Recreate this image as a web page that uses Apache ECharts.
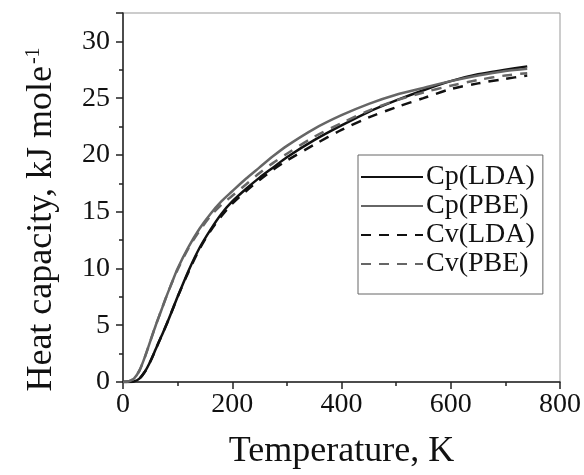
<!DOCTYPE html>
<html>
<head>
<meta charset="utf-8">
<script src="https://cdn.jsdelivr.net/npm/echarts@6/dist/echarts.min.js"></script>
<style>
  html, body { margin: 0; padding: 0; background: #fff; }
  #chart { width: 584px; height: 475px; }
</style>
</head>
<body>
<div id="chart"></div>
<script>
// temperature grid, K
var temps = [0, 10, 20, 30, 40, 50, 60, 70, 80, 90, 100, 120, 140, 160, 180, 200, 225, 250, 275, 300, 350, 400, 450, 500, 550, 600, 650, 700, 740];
// heat capacity, kJ/mole
var cpLDA = [0, 0, 0.05, 0.3, 0.9, 1.8, 2.9, 4.0, 5.1, 6.3, 7.5, 9.8, 11.8, 13.4, 14.8, 15.9, 17.0, 18.0, 18.9, 19.8, 21.3, 22.6, 23.8, 24.8, 25.7, 26.5, 27.1, 27.5, 27.8];
var cpPBE = [0, 0.05, 0.3, 1.0, 2.2, 3.6, 5.0, 6.3, 7.6, 8.8, 10.0, 11.9, 13.5, 14.8, 15.9, 16.8, 17.9, 18.9, 19.9, 20.8, 22.3, 23.5, 24.5, 25.3, 25.9, 26.5, 27.0, 27.4, 27.6];
var cvLDA = [0, 0, 0.05, 0.3, 0.9, 1.8, 2.9, 4.0, 5.1, 6.3, 7.5, 9.7, 11.7, 13.3, 14.6, 15.7, 16.8, 17.8, 18.7, 19.5, 20.9, 22.2, 23.3, 24.2, 25.0, 25.8, 26.3, 26.7, 27.0];
var cvPBE = [0, 0.05, 0.3, 1.0, 2.2, 3.6, 5.0, 6.3, 7.6, 8.8, 9.9, 11.8, 13.3, 14.6, 15.6, 16.4, 17.4, 18.4, 19.3, 20.1, 21.6, 22.8, 23.9, 24.8, 25.5, 26.1, 26.6, 27.0, 27.2];

var serif = "'Liberation Serif', 'Times New Roman', serif";

function pairs(ys) {
  return temps.map(function (t, i) { return [t, ys[i]]; });
}

function line(name, ys, color, dashed) {
  return {
    name: name,
    type: 'line',
    data: pairs(ys),
    smooth: 0.3,
    symbol: 'none',
    lineStyle: { color: color, width: 2.5, type: dashed ? [10, 8] : 'solid' },
    itemStyle: { color: color }
  };
}

var chart = echarts.init(document.getElementById('chart'));
chart.setOption({
  animation: false,
  backgroundColor: '#fff',
  grid: {
    left: 123, right: 21, top: 13, bottom: 92,
    show: true, borderColor: '#999', borderWidth: 1
  },
  legend: {
    orient: 'vertical',
    left: 358, top: 155,
    padding: [8, 8, 16, 2],
    itemWidth: 62, itemHeight: 14, itemGap: 1,
    borderColor: '#666', borderWidth: 1,
    itemStyle: { opacity: 0 },
    textStyle: { fontFamily: serif, fontSize: 28, lineHeight: 25, color: '#111', padding: [0, 0, 0, -2] },
    data: ['Cp(LDA)', 'Cp(PBE)', 'Cv(LDA)', 'Cv(PBE)']
  },
  xAxis: {
    type: 'value',
    min: 0, max: 800, interval: 200,
    name: 'Temperature, K',
    nameLocation: 'middle',
    nameGap: 52,
    nameTextStyle: { fontFamily: serif, fontSize: 36, color: '#111' },
    axisLine: { show: true, onZero: false, lineStyle: { color: '#222', width: 1.5 } },
    axisTick: { show: true, inside: false, length: 7, lineStyle: { color: '#222', width: 1.5 } },
    minorTick: { show: true, splitNumber: 2, length: 4, lineStyle: { color: '#222', width: 1.5 } },
    axisLabel: { fontFamily: serif, fontSize: 28, color: '#111', margin: 9 },
    splitLine: { show: false }
  },
  yAxis: {
    type: 'value',
    min: 0, max: 32.5, interval: 5,
    name: 'Heat capacity, kJ mole{sup|-1}',
    nameLocation: 'middle',
    nameGap: 63,
    nameRotate: 90,
    nameTextStyle: {
      fontFamily: serif, fontSize: 36, color: '#111',
      padding: [0, 44, 0, 0],
      rich: { sup: { fontFamily: serif, fontSize: 20, color: '#111', verticalAlign: 'top', lineHeight: 20, padding: [0, 0, 16, 2] } }
    },
    axisLine: { show: true, onZero: false, lineStyle: { color: '#222', width: 1.5 } },
    axisTick: { show: true, inside: false, length: 7, lineStyle: { color: '#222', width: 1.5 } },
    minorTick: { show: true, splitNumber: 2, length: 4, lineStyle: { color: '#222', width: 1.5 } },
    axisLabel: { fontFamily: serif, fontSize: 28, color: '#111', margin: 13, showMaxLabel: false },
    splitLine: { show: false }
  },
  series: [
    line('Cp(LDA)', cpLDA, '#111', false),
    line('Cp(PBE)', cpPBE, '#666', false),
    line('Cv(LDA)', cvLDA, '#111', true),
    line('Cv(PBE)', cvPBE, '#666', true)
  ]
});
</script>
</body>
</html>
